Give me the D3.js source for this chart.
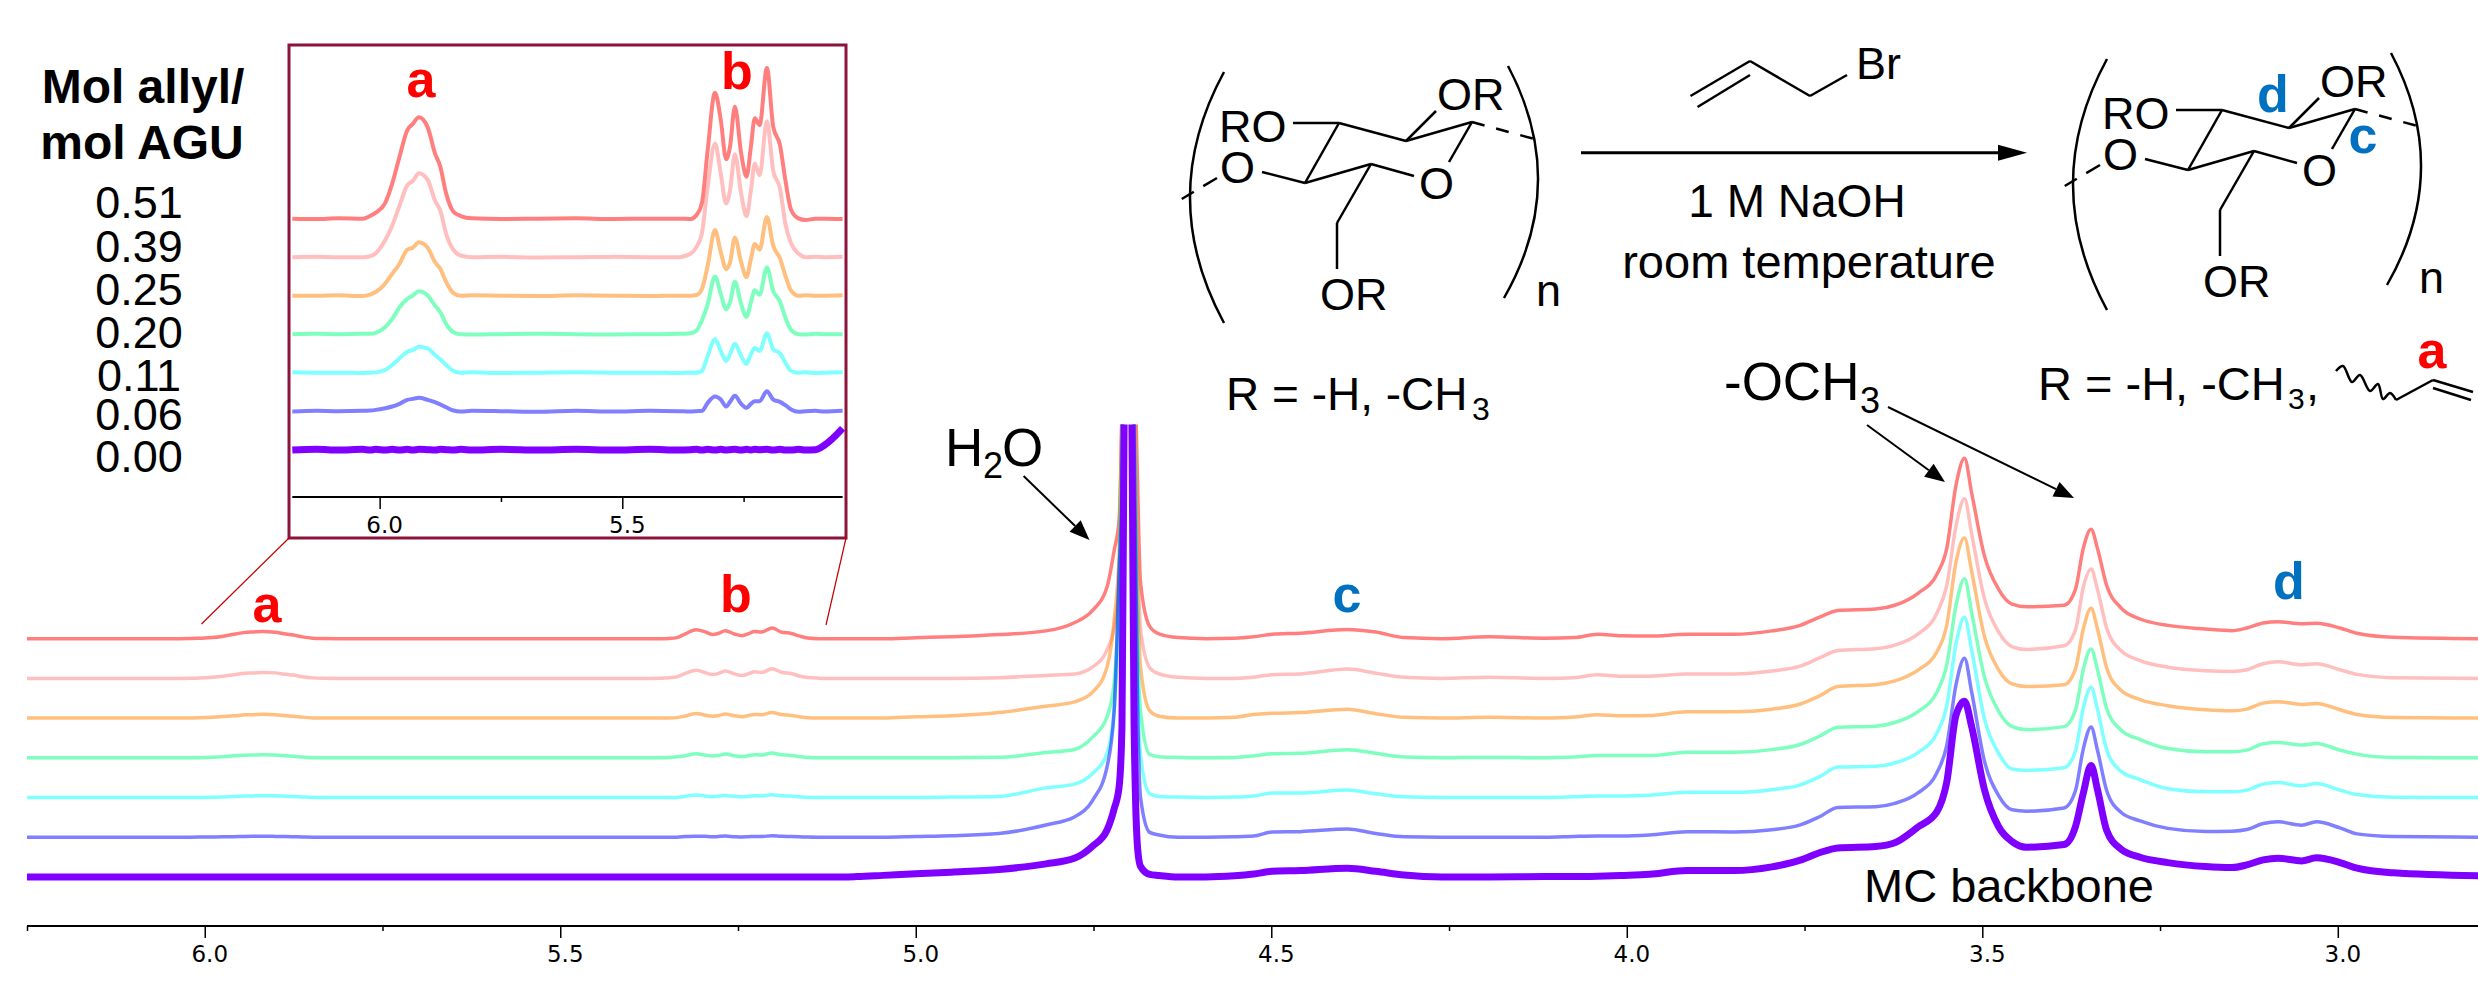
<!DOCTYPE html>
<html>
<head>
<meta charset="utf-8">
<script src="https://cdn.jsdelivr.net/npm/d3@7"></script>
<style>
    body { margin: 0; background: #fff; }
    text { font-family: "Liberation Sans", Arial, sans-serif; }
    .ticks text { font-family: "DejaVu Sans", sans-serif; font-size: 23px; }
</style>
</head>
<body>
<svg id="fig" width="2478" height="982"></svg>
<script>
// chemical shift grid, allyl region first, then the backbone region
var ppm = [6.25, 6.18, 6.13, 6.085, 6.035, 6.02, 6.008, 5.989, 5.974, 5.959, 5.943, 5.932, 5.919, 5.901, 5.886, 5.875, 5.863, 5.848, 5.833, 5.81, 5.75, 5.672, 5.596, 5.519, 5.443, 5.385, 5.359, 5.347, 5.336, 5.324, 5.309, 5.297, 5.286, 5.278, 5.268, 5.255, 5.244, 5.235, 5.227, 5.217, 5.202, 5.189, 5.175, 5.164, 5.152, 5.137, 5.122, 5.102, 5.083, 5.046,
    5.0, 4.95, 4.883, 4.817, 4.777, 4.751, 4.731, 4.721,
    4.714, 4.71, 4.707, 4.70, 4.696, 4.693, 4.688, 4.684,
    4.671, 4.658, 4.631, 4.592, 4.552, 4.525, 4.499, 4.459, 4.393, 4.353, 4.313, 4.26, 4.194, 4.114, 4.074, 4.041, 4.008, 3.968, 3.915, 3.849, 3.796, 3.756, 3.729, 3.703, 3.65, 3.623, 3.59, 3.564, 3.55, 3.537, 3.525, 3.515, 3.497, 3.477, 3.458, 3.438, 3.385, 3.369, 3.358, 3.347, 3.338, 3.325, 3.305, 3.278,
    3.239, 3.186, 3.149, 3.128, 3.105, 3.084, 3.051, 3.03, 2.997, 2.973, 2.922, 2.8];

// intensities (a.u.). The water peak runs off the top of the plot.
var ds051 = [0,0,-1,1,0,8,18,46,106,186,266,284,304,274,196,156,76,21,8,1,-1,0,1,-1,0,0,-1,11,46,206,378,296,178,216,336,196,126,216,301,281,452,276,221,116,26,1,-4,0,0,-1,
    42,80,172,328,670,1200,2170,3700,
    5000,9500,15000,30000,22000,14000,6500,2400,
    515,200,47,0,16,78,187,234,390,280,47,0,78,16,47,187,125,110,187,187,328,560,905,1186,1248,1404,1919,2700,3790,6440,7580,6130,3480,2075,1450,1340,1404,2075,3790,4600,3790,2230,1295,827,
    560,407,336,450,660,714,630,647,450,226,59,0];
var ds039 = [0,0,1,0,0,3,12,50,95,155,216,228,252,232,170,140,70,22,5,0,1,-1,0,1,0,0,11,31,71,211,341,250,161,200,309,190,123,200,281,246,408,260,206,101,41,11,0,1,0,1,
    0,0,30,125,180,480,1200,2150,
    4100,11500,17000,30000,24000,13000,5500,2100,
    450,190,47,0,0,47,156,187,390,220,47,0,47,0,31,156,94,94,187,187,312,515,858,1170,1248,1400,1870,2730,3900,6400,7550,6080,3350,1950,1326,1217,1370,2030,3820,4590,3740,2100,1170,750,
    470,322,294,364,616,700,574,616,364,168,28,0];
var ds025 = [0,0,0,1,-1,3,11,36,66,96,138,144,160,144,101,81,41,8,0,1,0,-1,1,0,-1,0,0,2,20,90,197,130,80,100,174,100,56,110,155,138,236,150,112,60,15,0,1,0,0,1,
    55,100,234,500,680,1100,2150,4100,
    6900,13000,19000,30000,24000,14000,5500,2180,
    312,78,0,0,31,156,203,234,374,187,31,0,31,0,47,140,94,110,265,265,374,593,936,1326,1404,1560,2028,2777,3900,6552,7566,6162,3432,2028,1435,1326,1404,2060,3744,4618,3744,2106,1170,780,
    520,350,308,378,630,686,574,616,350,154,28,0];
var ds020 = [0,0,1,0,1,1,4,21,46,81,106,116,129,116,86,66,31,6,0,-1,0,1,0,-1,0,1,3,11,41,90,173,120,75,95,157,90,52,95,132,118,200,130,98,50,12,0,-1,1,0,0,
    0,0,20,218,350,880,1720,3150,
    7200,13500,20000,30000,26000,15000,5000,2000,
    140,47,15,0,16,78,170,187,343,187,31,0,16,0,31,94,94,94,234,234,343,560,905,1279,1326,1482,1950,2750,3900,6400,7519,6100,3400,1950,1310,1186,1310,2000,3700,4570,3700,2060,1170,765,
    390,252,252,322,588,644,533,602,322,154,14,0];
var ds011 = [0,1,0,0,-1,0,1,8,23,43,63,68,78,73,53,40,23,5,0,1,-1,0,1,0,0,-1,0,0,5,50,100,65,35,55,87,50,26,55,74,65,118,70,58,30,5,0,1,-1,0,1,
    0,16,47,405,560,1020,1850,3700,
    8200,14000,20000,30000,26000,16000,5000,1800,
    156,47,16,0,16,62,187,187,312,156,31,0,0,0,31,62,62,94,218,218,328,530,874,1279,1310,1450,1900,2700,3850,6450,7566,6200,3300,1850,1200,1139,1248,1950,3750,4633,3700,2000,1110,750,
    370,238,238,308,560,630,490,588,308,126,14,0];
var ds006 = [0,-1,1,0,1,2,4,9,14,22,34,37,40,34,27,20,12,2,-1,1,0,-2,1,-1,1,0,-1,0,1,25,44,35,14,28,46,22,10,22,30,30,60,35,28,18,5,-2,0,1,-1,1,
    31,62,156,515,850,1560,2950,5300,
    11200,14500,21000,30000,27000,17000,5500,1700,
    203,94,0,0,16,47,218,234,343,156,16,0,0,0,31,47,47,94,234,218,312,515,858,1248,1279,1420,1872,2700,3850,6400,7519,6100,3200,1750,1150,1092,1230,1950,3700,4633,3650,1950,1050,686,
    370,238,252,322,574,644,504,644,392,140,28,0];
var ds000 = [0,-1,1,-1,1,-1,1,-1,1,-1,1,-1,1,0,-1,1,0,-1,1,-1,1,-1,1,-1,1,-1,0,1,-1,1,-1,1,-1,0,1,-1,1,-1,1,0,1,-1,1,-1,-1,1,-1,0,14,64,
    130,200,312,546,780,1300,1970,2860,
    3780,6300,19000,30000,19000,6500,1200,450,
    109,62,0,0,47,120,234,265,359,234,78,0,0,16,16,31,62,109,265,265,421,702,1014,1217,1279,1435,2106,2730,3978,6786,7379,6318,3666,2106,1482,1248,1357,2106,3510,4680,3666,1950,1170,827,
    600,434,392,504,714,784,672,800,602,364,170,42];

var spectra = [ds051, ds039, ds025, ds020, ds011, ds006, ds000];
var dsLabels = ["0.51", "0.39", "0.25", "0.20", "0.11", "0.06", "0.00"];
var colors = ["#ff0000", "#ff8080", "#ff8000", "#00ff80", "#00ffff", "#0000ff", "#8000ff"];
var opacities = [0.5, 0.5, 0.5, 0.5, 0.5, 0.5, 1];

var mainMajor = [6.0, 5.5, 5.0, 4.5, 4.0, 3.5, 3.0];
var mainMinor = [6.25, 5.75, 5.25, 4.75, 4.25, 3.75, 3.25];
var insetMajor = [6.0, 5.5];
var insetMinor = [5.75, 5.25];

var svg = d3.select("#fig");
var BLUE = "#0070c0", RED = "#ff0000", CRIMSON = "#8c1339";

function drawStack(g, opts) {
    var x = d3.scaleLinear().domain(opts.xDomain).range(opts.xRange);
    var idx = d3.range(ppm.length).filter(function(i) {
        return ppm[i] <= opts.xDomain[0] && ppm[i] >= opts.xDomain[1];
    });

    spectra.forEach(function(vals, s) {
        var base = opts.base0 + s * opts.step;
        var y = d3.scaleLinear().domain([0, opts.unitsPerPx]).range([base, base - 1]);
        var line = d3.line()
            .x(function(i) { return x(ppm[i]); })
            .y(function(i) { return y(vals[i]); })
            .curve(d3.curveMonotoneX);
        g.append("path")
            .attr("d", line(idx))
            .attr("fill", "none")
            .attr("stroke", colors[s])
            .attr("stroke-opacity", opacities[s])
            .attr("stroke-width", s == 6 ? opts.thick : opts.thin)
            .attr("stroke-linejoin", "round")
            .attr("clip-path", opts.clip || null);
    });

    var major = g.append("g").attr("class", "ticks")
        .attr("transform", "translate(0," + opts.axisY + ")")
        .call(d3.axisBottom(x).tickValues(opts.major).tickSize(12).tickPadding(8).tickFormat(d3.format(".1f")));
    major.select(".domain").attr("stroke-width", 2).attr("d", "M" + opts.xRange[0] + ",0H" + opts.xRange[1]);
    major.selectAll("line").attr("stroke-width", 1.5);
    major.selectAll("text").attr("dx", 4.5).attr("fill", "#000");

    var minor = g.append("g")
        .attr("transform", "translate(0," + opts.axisY + ")")
        .call(d3.axisBottom(x).tickValues(opts.minor).tickSize(5).tickFormat(""));
    minor.select(".domain").remove();
    minor.selectAll("line").attr("stroke-width", 1.5);
}

function label(txt, x, y, size, o) {
    o = o || {};
    return svg.append("text")
        .attr("x", x).attr("y", y)
        .attr("font-size", size)
        .attr("font-weight", o.bold ? "bold" : null)
        .attr("text-anchor", o.anchor || "start")
        .attr("fill", o.fill || "#000")
        .text(txt);
}

function segs(list, dx, dy, width, dash) {
    var line = d3.line();
    list.forEach(function(s) {
        svg.append("path")
            .attr("d", line(s.map(function(p) { return [p[0] + dx, p[1] + dy]; })))
            .attr("fill", "none").attr("stroke", "#000")
            .attr("stroke-width", width)
            .attr("stroke-dasharray", dash || null);
    });
}

function arrow(x1, y1, x2, y2, w, len, half) {
    var a = Math.atan2(y2 - y1, x2 - x1);
    var bx = x2 - len * Math.cos(a), by = y2 - len * Math.sin(a);
    svg.append("line").attr("x1", x1).attr("y1", y1).attr("x2", bx).attr("y2", by)
        .attr("stroke", "#000").attr("stroke-width", w);
    svg.append("polygon").attr("fill", "#000").attr("points", [
        [x2, y2],
        [bx - half * Math.sin(a), by + half * Math.cos(a)],
        [bx + half * Math.sin(a), by - half * Math.cos(a)]
    ].join(" "));
}

// Main spectrum
svg.append("clipPath").attr("id", "mainClip").append("rect")
    .attr("x", 0).attr("y", 424.5).attr("width", 2478).attr("height", 560);
drawStack(svg.append("g"), {
    xDomain: [6.25, 2.8], xRange: [27, 2480],
    base0: 638.7, step: 39.7, unitsPerPx: 42,
    thin: 3.5, thick: 7, axisY: 926,
    major: mainMajor, minor: mainMinor, clip: "url(#mainClip)"
});

// Inset
svg.append("rect").attr("x", 289).attr("y", 45).attr("width", 557).attr("height", 493)
    .attr("fill", "#fff").attr("stroke", CRIMSON).attr("stroke-width", 3);
drawStack(svg.append("g"), {
    xDomain: [6.18, 5.046], xRange: [292.3, 842.6],
    base0: 218.7, step: 38.5, unitsPerPx: 3,
    thin: 4, thick: 7, axisY: 497,
    major: insetMajor, minor: insetMinor
});
[[[289, 538], [201.5, 624]], [[846, 538], [826, 625]]].forEach(function(s) {
    svg.append("path").attr("d", d3.line()(s)).attr("stroke", "#c00000").attr("stroke-width", 1.2).attr("fill", "none");
});

// Legend
label("Mol allyl/", 143, 103, 48, { bold: true, anchor: "middle" });
label("mol AGU", 142, 159, 48, { bold: true, anchor: "middle" });
var legendY = [218, 262, 305, 348, 391, 430, 472];
dsLabels.forEach(function(t, i) { label(t, 139, legendY[i], 45, { anchor: "middle" }); });

// Peak letters
label("a", 421, 97, 52, { bold: true, anchor: "middle", fill: RED });
label("b", 737, 89, 52, { bold: true, anchor: "middle", fill: RED });
label("a", 267, 622, 52, { bold: true, anchor: "middle", fill: RED });
label("b", 736, 612, 52, { bold: true, anchor: "middle", fill: RED });
label("c", 1347, 612, 52, { bold: true, anchor: "middle", fill: BLUE });
label("d", 2289, 599, 52, { bold: true, anchor: "middle", fill: BLUE });

// Annotations on the spectrum
label("H", 945, 466, 53);
label("2", 983, 478, 36);
label("O", 1002, 466, 53);
arrow(1023.6, 476, 1089.5, 540, 2, 20, 8);
label("-OCH", 1724, 400, 53);
label("3", 1860, 413, 36);
arrow(1867, 425, 1945, 482, 2, 20, 8);
arrow(1888, 407, 2074, 498, 2, 20, 8);
label("MC backbone", 1864, 902, 47);

// Glucose unit, drawn once and shifted for the product
var ringBonds = [
    [[1293, 123], [1339, 123]], [[1339, 123], [1406, 141]], [[1406, 141], [1436, 111]],
    [[1406, 141], [1472, 122]], [[1472, 122], [1449, 162]], [[1339, 123], [1305, 183]],
    [[1262, 172], [1305, 183]], [[1305, 183], [1371, 164]], [[1371, 164], [1414, 176]],
    [[1371, 164], [1337, 223]], [[1337, 223], [1337, 269]]
];

function sugar(dx, dy) {
    segs(ringBonds, dx, dy, 2.5);
    segs([[[1472, 122], [1538, 140]]], dx, dy, 2.5, "13 12");
    segs([[[1217, 178], [1180, 200]]], dx, dy, 2.5, "16 11 14");
    svg.append("path").attr("fill", "none").attr("stroke", "#000").attr("stroke-width", 2.5)
        .attr("d", "M" + (1224 + dx) + "," + (72 + dy) + "Q" + (1156 + dx) + "," + (197 + dy) + " " + (1224 + dx) + "," + (323 + dy));
    svg.append("path").attr("fill", "none").attr("stroke", "#000").attr("stroke-width", 2.5)
        .attr("d", "M" + (1508 + dx) + "," + (66 + dy) + "Q" + (1570 + dx) + "," + (183 + dy) + " " + (1504 + dx) + "," + (298 + dy));
    label("RO", 1219 + dx, 142 + dy, 45);
    label("OR", 1437 + dx, 110 + dy, 45);
    label("O", 1220 + dx, 183 + dy, 45);
    label("O", 1419 + dx, 199 + dy, 45);
    label("OR", 1320 + dx, 310 + dy, 45);
    label("n", 1536 + dx, 306 + dy, 45);
}
sugar(0, 0);
sugar(883, -13);
label("d", 2273, 112, 52, { bold: true, anchor: "middle", fill: BLUE });
label("c", 2363, 153, 52, { bold: true, anchor: "middle", fill: BLUE });

// Reaction arrow and reagent
arrow(1581, 152.7, 2027, 152.7, 3, 29, 8);
segs([[[1690.5, 96], [1750, 61]], [[1697.5, 107], [1750, 75]], [[1750, 61], [1810, 96]], [[1810, 96], [1847, 75]]], 0, 0, 2.5);
label("Br", 1856, 79, 45);
label("1 M NaOH", 1797, 217, 46, { anchor: "middle" });
label("room temperature", 1809, 278, 47, { anchor: "middle" });

// R groups
label("R = -H, -CH", 1226, 410, 46);
label("3", 1472, 420, 32);
label("R = -H, -CH", 2038, 400, 47);
label("3", 2288, 409, 30);
label(",", 2306, 400, 47);
var wave = [[2336, 371], [2343, 366], [2352, 382], [2360, 375], [2370, 391], [2378, 384], [2383, 399], [2390, 393], [2396, 400]];
svg.append("path").attr("d", d3.line().curve(d3.curveCatmullRom)(wave)).attr("fill", "none").attr("stroke", "#000").attr("stroke-width", 2.5);
segs([[[2396, 400], [2433, 380]], [[2433, 380], [2473, 392]], [[2433, 388], [2471, 400]]], 0, 0, 2.5);
label("a", 2432, 368, 52, { bold: true, anchor: "middle", fill: RED });
</script>
</body>
</html>
